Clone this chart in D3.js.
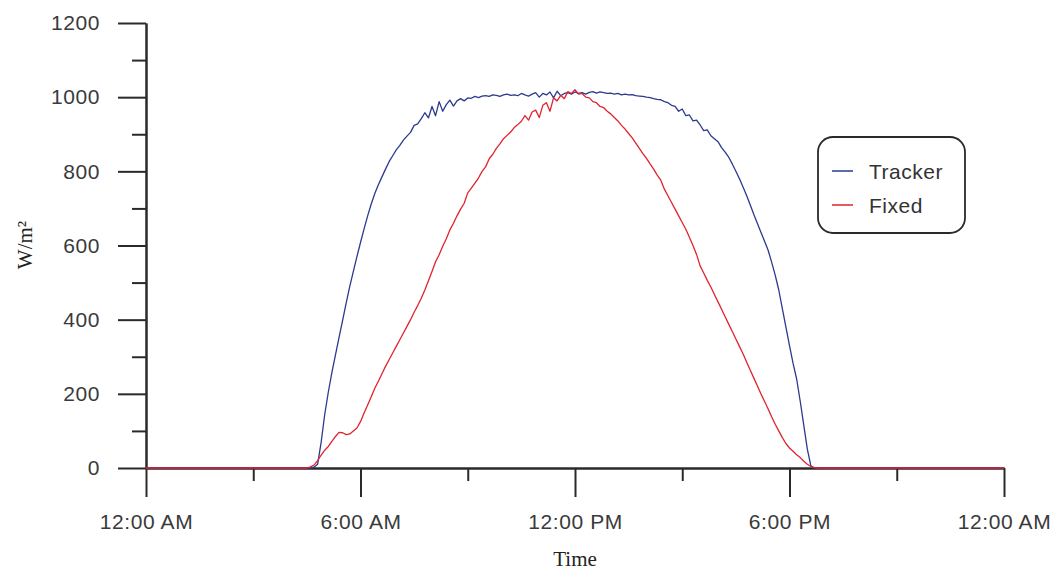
<!DOCTYPE html>
<html>
<head>
<meta charset="utf-8">
<script src="https://cdn.jsdelivr.net/npm/d3@7"></script>
<style>
  body { margin: 0; background: #fff; }
  svg { display: block; }
  .tick text { font-family: "Liberation Sans", Arial, sans-serif; font-size: 21px; fill: #3a3a3a; }
</style>
</head>
<body>
<div id="container"></div>
<script>
// hours of day for each sample (0 = midnight, 24 = next midnight)
var hours = [0,
  4.5,4.6,4.7,4.8,4.9,5.0,5.1,5.2,5.3,5.4,5.5,5.6,5.7,5.8,5.9,
  6.0,6.1,6.2,6.3,6.4,6.5,6.6,6.7,6.8,6.9,7.0,7.1,7.2,7.3,7.4,7.5,7.6,7.7,7.8,7.9,
  8.0,8.1,8.2,8.3,8.4,8.5,8.6,8.7,8.8,8.9,9.0,9.1,9.2,9.3,9.4,9.5,9.6,9.7,9.8,9.9,
  10.0,10.1,10.2,10.3,10.4,10.5,10.6,10.7,10.8,10.9,11.0,11.1,11.2,11.3,11.4,11.5,11.6,11.7,11.8,11.9,
  12.0,12.1,12.2,12.3,12.4,12.5,12.6,12.7,12.8,12.9,13.0,13.1,13.2,13.3,13.4,13.5,13.6,13.7,13.8,13.9,
  14.0,14.1,14.2,14.3,14.4,14.5,14.6,14.7,14.8,14.9,15.0,15.1,15.2,15.3,15.4,15.5,15.6,15.7,15.8,15.9,
  16.0,16.1,16.2,16.3,16.4,16.5,16.6,16.7,16.8,16.9,17.0,17.1,17.2,17.3,17.4,17.5,17.6,17.7,17.8,17.9,
  18.0,18.1,18.2,18.3,18.4,18.5,18.6,18.7,18.8,
  24];

var tracker = [0,
  0,0,2,10,70,145,205,258,305,352,398,445,490,530,570,
  608,645,680,712,740,764,785,806,826,842,858,870,884,895,905,924,928,942,958,944,
  975,950,988,962,980,992,976,990,996,990,998,997,1002,999,1003,1004,1002,1006,1005,1002,
  1006,1008,1005,1006,1004,1010,1006,1003,1008,1012,1000,1010,1006,1014,998,1016,1004,1010,1012,1008,
  1014,1010,1012,1008,1013,1015,1011,1014,1012,1010,1011,1008,1010,1006,1008,1006,1007,1004,1003,1002,
  1000,999,996,994,993,988,985,978,975,962,968,950,952,936,938,925,910,912,896,888,
  880,864,852,838,820,800,780,758,735,710,684,660,636,612,588,555,520,480,430,380,
  330,282,240,180,115,50,5,0,0,
  0];

var fixed = [0,
  0,3,8,20,35,48,58,72,85,96,95,90,92,100,108,
  125,148,170,192,215,234,254,274,292,310,328,346,364,382,400,420,438,458,480,505,
  530,556,575,598,618,642,660,680,698,714,742,755,768,782,800,812,834,846,862,874,
  888,897,906,918,926,935,950,938,960,965,945,978,985,962,998,990,1005,996,1015,1010,
  1020,1008,1010,1000,998,988,985,975,972,962,955,945,936,924,914,902,890,876,862,848,
  835,820,806,790,776,752,734,716,698,680,662,644,622,600,576,545,526,506,488,468,
  448,428,408,388,368,348,328,308,286,264,243,222,200,180,160,138,118,100,82,66,
  54,45,36,28,18,10,4,1,0,
  0];

var yMajor = [0, 200, 400, 600, 800, 1000, 1200];
var yMinor = [100, 300, 500, 700, 900, 1100];
var xMajor = [0, 6, 12, 18, 24];
var xMinor = [3, 9, 15, 21];
var xLabels = ["12:00 AM", "6:00 AM", "12:00 PM", "6:00 PM", "12:00 AM"];
var seriesNames = ["Tracker", "Fixed"];
var seriesColors = ["#2b3a8e", "#e0232d"];

var width = 1059, height = 572;
var svg = d3.select('#container')
  .append('svg')
  .attr('width', width)
  .attr('height', height);

var x = d3.scaleLinear().domain([0, 24]).range([146, 1004]);
var y = d3.scaleLinear().domain([0, 1200]).range([468, 23]);

// y axis
svg.append('g')
  .attr('transform', 'translate(146,0)')
  .call(d3.axisLeft(y).tickValues(yMajor).tickSize(28).tickPadding(18).tickSizeOuter(0)
    .tickFormat(d3.format('d')));
svg.append('g')
  .attr('transform', 'translate(146,0)')
  .call(d3.axisLeft(y).tickValues(yMinor).tickSize(14).tickFormat('').tickSizeOuter(0));

// x axis
svg.append('g')
  .attr('transform', 'translate(0,468)')
  .call(d3.axisBottom(x).tickValues(xMajor).tickSize(29).tickPadding(17).tickSizeOuter(0)
    .tickFormat(function(d, i) { return xLabels[i]; }));
svg.append('g')
  .attr('transform', 'translate(0,468)')
  .call(d3.axisBottom(x).tickValues(xMinor).tickSize(13).tickFormat('').tickSizeOuter(0));

svg.selectAll('.domain, .tick line')
  .style('stroke', '#2a2a2a')
  .style('stroke-width', 2);
svg.selectAll('.tick text').style('letter-spacing', '0.6px');

// series lines
var line = d3.line()
  .x(function(d) { return x(d[0]); })
  .y(function(d) { return y(d[1]); });

[tracker, fixed].forEach(function(vals, k) {
  svg.append('path')
    .datum(hours.map(function(h, i) { return [h, vals[i]]; }))
    .attr('d', line)
    .style('fill', 'none')
    .style('stroke', seriesColors[k])
    .style('stroke-width', 1.3)
    .style('stroke-linejoin', 'round');
});

// axis titles
svg.append('text')
  .attr('x', 575)
  .attr('y', 566)
  .attr('text-anchor', 'middle')
  .style('font-family', '"Liberation Serif", "Times New Roman", serif')
  .style('font-size', '21px')
  .style('fill', '#222')
  .text('Time');

svg.append('text')
  .attr('transform', 'translate(32,245) rotate(-90)')
  .attr('text-anchor', 'middle')
  .style('font-family', '"Liberation Serif", "Times New Roman", serif')
  .style('font-size', '21px')
  .style('fill', '#222')
  .text('W/m²');

// legend
var legend = svg.append('g');
legend.append('rect')
  .attr('x', 818).attr('y', 137)
  .attr('width', 147).attr('height', 96)
  .attr('rx', 15).attr('ry', 15)
  .style('fill', 'white')
  .style('stroke', '#2a2a2a')
  .style('stroke-width', 1.8);

seriesNames.forEach(function(name, i) {
  var ly = 171 + i * 34;
  legend.append('line')
    .attr('x1', 832).attr('x2', 853)
    .attr('y1', ly).attr('y2', ly)
    .style('stroke', seriesColors[i])
    .style('stroke-width', 1.5);
  legend.append('text')
    .attr('x', 869).attr('y', ly + 8)
    .style('font-family', '"Liberation Sans", Arial, sans-serif')
    .style('font-size', '21px')
    .style('letter-spacing', '0.5px')
    .style('fill', '#333')
    .text(name);
});
</script>
</body>
</html>
